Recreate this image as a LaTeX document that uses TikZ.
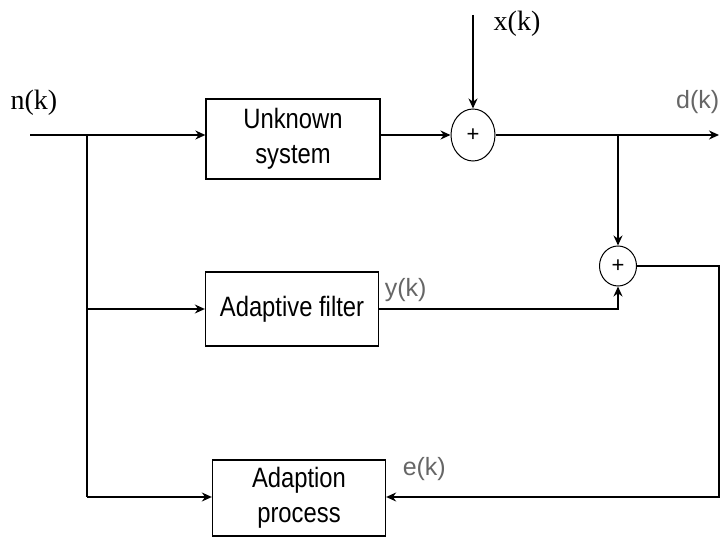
\documentclass[tikz,border=0pt]{standalone}
\usepackage{fontspec}
\setmainfont{Liberation Serif}
\setsansfont{Liberation Sans}
\newfontfamily\boxfont[FakeStretch=0.85]{Liberation Sans}
\usetikzlibrary{arrows.meta, positioning, shapes.geometric}

\begin{document}
\begin{tikzpicture}[>={Stealth[length=10pt,width=9pt]}, x=1pt, y=-1pt, line width=1.5pt,
  block/.style={draw, line width=1.3pt, minimum width=174pt, minimum height=80pt,
                inner sep=0pt, align=center, font=\boxfont\fontsize{28}{35}\selectfont},
  sumnode/.style={draw, ellipse, line width=1pt, inner sep=0pt,
                  font=\sffamily\fontsize{22}{22}\selectfont},
  siglabel/.style={inner sep=0pt, font=\fontsize{28}{28}\selectfont},
  errlabel/.style={inner sep=0pt, anchor=west, text=black!60,
                   font=\sffamily\fontsize{25}{25}\selectfont}]
  \useasboundingbox (0,0) rectangle (721,537);

  % Blocks
  \node[block] (unknown) at (293,139) {Unknown\\system};
  \node[block, minimum width=173pt, minimum height=74pt] (filter) at (292,309) {Adaptive filter};
  \node[block, minimum width=173pt, minimum height=76pt] (adaption) at (299,498) {Adaption\\process};

  % Summing points
  \node[sumnode, minimum width=44pt, minimum height=52pt] (sum1) at (473,135) {+};
  \node[sumnode, minimum width=37pt, minimum height=40pt] (sum2) at (618,266) {+};

  % Corner points
  \coordinate (nin) at (30,135);
  \coordinate (split) at (87,135);
  \coordinate (splitmid) at (87,309);
  \coordinate (splitlow) at (87,497);
  \coordinate (xin) at (473,15);
  \coordinate (dout) at (719,135);
  \coordinate (tap) at (618,135);
  \coordinate (yk) at (618,309);
  \coordinate (retlow) at (719,497);

  % Signal paths
  \draw (nin) -- (split);
  \draw[->] (split) -- (split -| unknown.west);
  \draw[->] (unknown.east |- sum1) -- (sum1.west);
  \draw[->] (xin) -- (sum1.north);
  \draw[->] (sum1.east) -- (dout);
  \draw[->] (tap) -- (sum2.north);
  \draw (split) -- (splitlow);
  \draw[->] (splitmid) -- (filter.west);
  \draw[->] (splitlow) -- (adaption.west |- splitlow);
  \draw[->] (filter.east) -- (yk) -- (sum2.south);
  \draw[->] (sum2.east) -| (retlow) -- (adaption.east |- retlow);

  % Labels
  \node[siglabel] (nlabel) at (34,103) {n(k)};
  \node[siglabel] (xlabel) at (517,24) {x(k)};
  \node[errlabel, anchor=east] (dlabel) at (720,102) {d(k)};
  \node[errlabel] (ylabel) at (384,290) {y(k)};
  \node[errlabel] (elabel) at (402,469) {e(k)};
\end{tikzpicture}
\end{document}
